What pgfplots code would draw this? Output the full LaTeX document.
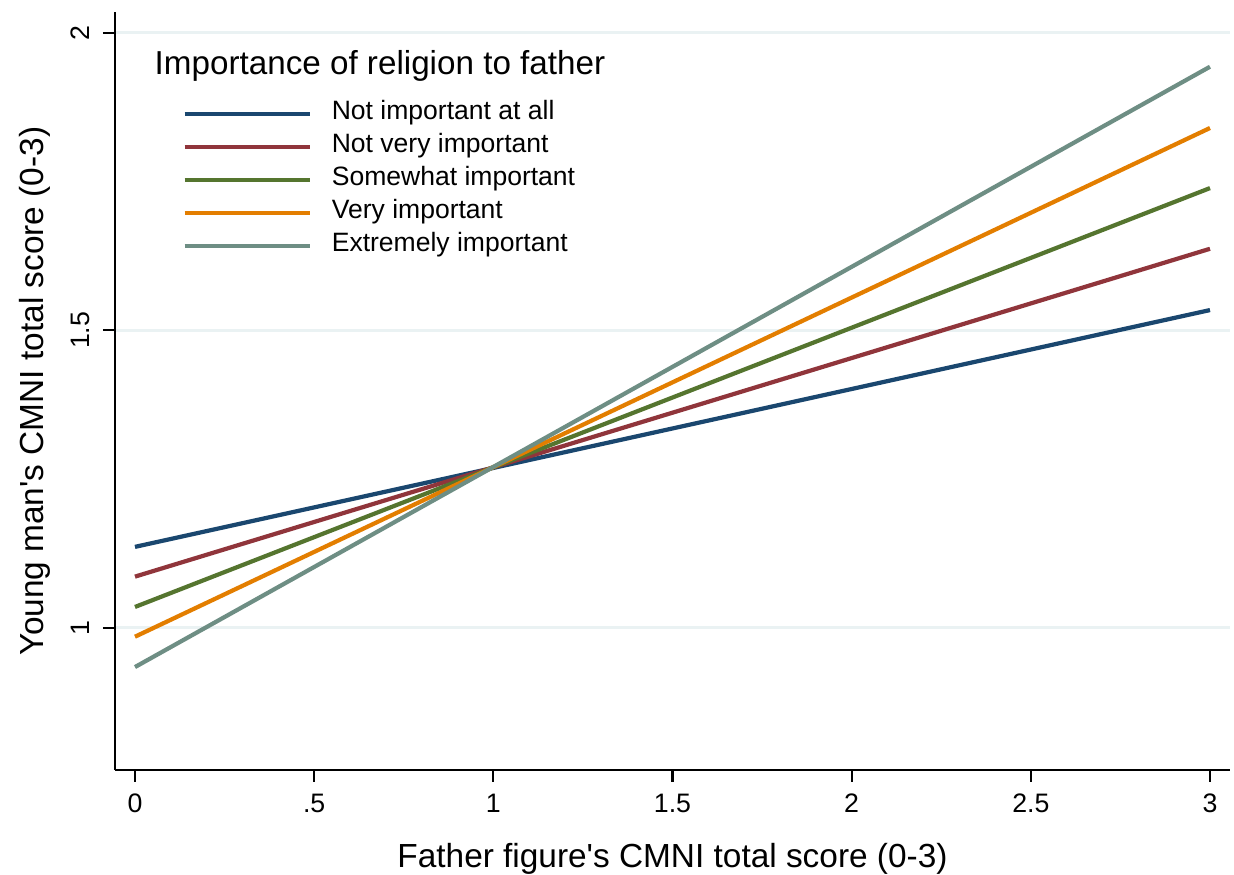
\documentclass[border=0pt]{standalone}
\usepackage{fontspec}
\setmainfont{Liberation Sans}
\usepackage{pgfplots}
\pgfplotsset{compat=1.18}
\definecolor{snavy}{RGB}{26,71,111}
\definecolor{smaroon}{RGB}{144,53,59}
\definecolor{sgreen}{RGB}{85,117,47}
\definecolor{sorange}{RGB}{227,126,0}
\definecolor{steal}{RGB}{110,142,132}
\definecolor{gridc}{RGB}{234,242,243}
\begin{document}
\begin{tikzpicture}
\useasboundingbox (-1.15cm,-1.05cm) rectangle (11.19cm,7.70cm);
\begin{axis}[
  at={(0,0)}, anchor=south west,
  width=11.15cm, height=7.58cm, scale only axis,
  xmin=-0.0558, xmax=3.0558, ymin=0.761, ymax=2.035,
  axis x line*=bottom, axis y line*=left,
  axis line style={-, line width=0.6pt, black},
  xtick={0,0.5,1,1.5,2,2.5,3}, xticklabels={0,.5,1,1.5,2,2.5,3},
  ytick={1,1.5,2}, yticklabels={1,1.5,2},
  tick align=outside, major tick length=1.2mm,
  major tick style={line width=0.6pt, black},
  minor tick num=0,
  ymajorgrids, grid style={color=gridc, line width=0.8pt},
  /pgf/number format/assume math mode=true,
  tick label style={font=\fontsize{7.6}{8}\selectfont},
  xticklabel style={anchor=north, inner sep=0pt, yshift=-1.1mm},
  yticklabel style={rotate=90, anchor=south, inner sep=0pt, yshift=1.3mm},
  xlabel={Father figure\textquotesingle s CMNI total score (0-3)},
  ylabel={Young man\textquotesingle s CMNI total score (0-3)},
  every axis x label/.style={at={(rel axis cs:0.5,-0.128)}, anchor=base, inner sep=0pt, font=\fontsize{9.5}{11}\selectfont},
  every axis y label/.style={at={(rel axis cs:-0.0645,0.5)}, rotate=90, anchor=base, inner sep=0pt, font=\fontsize{9.5}{11}\selectfont},
  legend style={at={(rel axis cs:0.060,0.8885)}, anchor=north west, draw=none, fill=none,
    inner sep=0pt, row sep=0pt, column sep=2.0mm,
    font=\fontsize{7.55}{9}\selectfont,
    nodes={inner sep=0pt, text height=2.2mm, text depth=1.1mm}},
  legend cell align=left,
  legend image code/.code={\draw[#1] (0cm,0cm) -- (1.25cm,0cm);},
  every axis plot/.append style={line width=1.2pt},
  clip=false,
]
\addplot[snavy] coordinates {(0,1.136) (3,1.534)};
\addlegendentry{Not important at all}
\addplot[smaroon] coordinates {(0,1.086) (3,1.637)};
\addlegendentry{Not very important}
\addplot[sgreen] coordinates {(0,1.035) (3,1.739)};
\addlegendentry{Somewhat important}
\addplot[sorange] coordinates {(0,0.985) (3,1.840)};
\addlegendentry{Very important}
\addplot[steal] coordinates {(0,0.934) (3,1.943)};
\addlegendentry{Extremely important}
\node[anchor=west, inner sep=0pt, font=\fontsize{9.45}{11}\selectfont] at (rel axis cs:0.035,0.929) {Importance of religion to father};
\end{axis}
\end{tikzpicture}
\end{document}
